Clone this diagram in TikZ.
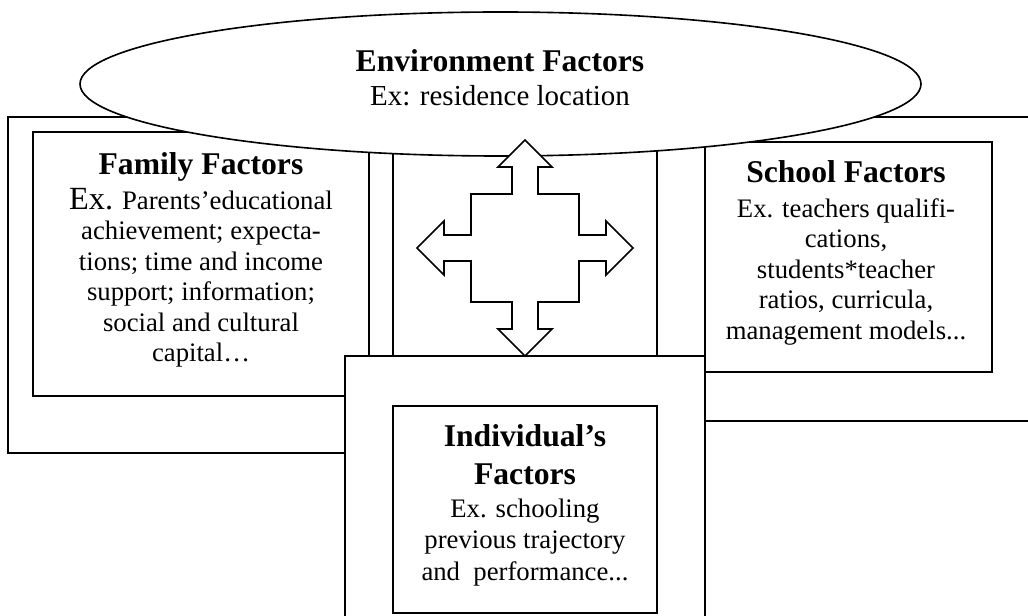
\documentclass[tikz,border=0pt]{standalone}
\usepackage{fontspec}
\setmainfont{Liberation Serif}
\usepackage{tikz}
\tikzset{factbox/.style={draw, fill=white, line width=1.15pt},
	factext/.style={anchor=north, inner sep=0pt, align=center, font=\txtfont}}
\newcommand{\txtfont}{\fontsize{19pt}{21.7pt}\selectfont}
\newcommand{\ttlfont}{\fontsize{22.5pt}{26pt}\selectfont\bfseries}
\newcommand{\envfont}{\fontsize{20.6pt}{25.6pt}\selectfont}
\def\crossarrow{(0,-108) -- (27,-81) -- (13,-81) -- (13,-54) -- (54,-54) -- (54,-13) -- (81,-13) -- (81,-27) -- (108,0) -- (81,27) -- (81,13) -- (54,13) -- (54,54) -- (13,54) -- (13,81) -- (27,81) -- (0,108) -- (-27,81) -- (-13,81) -- (-13,54) -- (-54,54) -- (-54,13) -- (-81,13) -- (-81,27) -- (-108,0) -- (-81,-27) -- (-81,-13) -- (-54,-13) -- (-54,-54) -- (-13,-54) -- (-13,-81) -- (-27,-81) -- cycle}

\begin{document}
\begin{tikzpicture}[x=0.025cm, y=-0.025cm]
				\clip (0,0) rectangle (1028,616);
				
				%outer frames behind the factor boxes
				\draw[factbox] (8,117) rectangle (500,453);
				\draw[factbox] (560,117) rectangle (1040,421);
				\draw[factbox] (33,132) rectangle (369,396);
				\draw[factbox] (705,142) rectangle (992,372);
				\draw[factbox] (393,110) rectangle (657,356);
				\draw[factbox] (345,356) rectangle (705,640);
				\draw[factbox] (393,406) rectangle (657,613);
				
				%environment on top, then the arrows
				\draw[factbox] (500.5,84) ellipse [x radius=420.5, y radius=72];
				\draw[factbox, shift={(525,248)}] \crossarrow;
				 
				\node[factext] (envtxt) at (500,49) {{\ttlfont Environment Factors}\\[3pt]{\envfont Ex: residence location}};
				\node[factext] (familytxt) at (201,152) {{\ttlfont Family Factors}\\[3.2pt]{\fontsize{23pt}{26pt}\selectfont Ex.} Parents’educational\\achievement; expecta-\\tions; time and income\\support; information;\\social and cultural\\capital…};
				\node[factext] (schooltxt) at (846,160) {{\ttlfont School Factors}\\[3.2pt]Ex. teachers qualifi-\\cations,\\students*teacher\\ratios, curricula,\\management models...};
				\node[factext] (indivtxt) at (525,424) {{\ttlfont Individual’s}\\[5.3pt]{\ttlfont Factors}\\[2pt]Ex. schooling\\[0.5pt]previous trajectory\\[1pt]and~ performance...};
			\end{tikzpicture}
\end{document}
